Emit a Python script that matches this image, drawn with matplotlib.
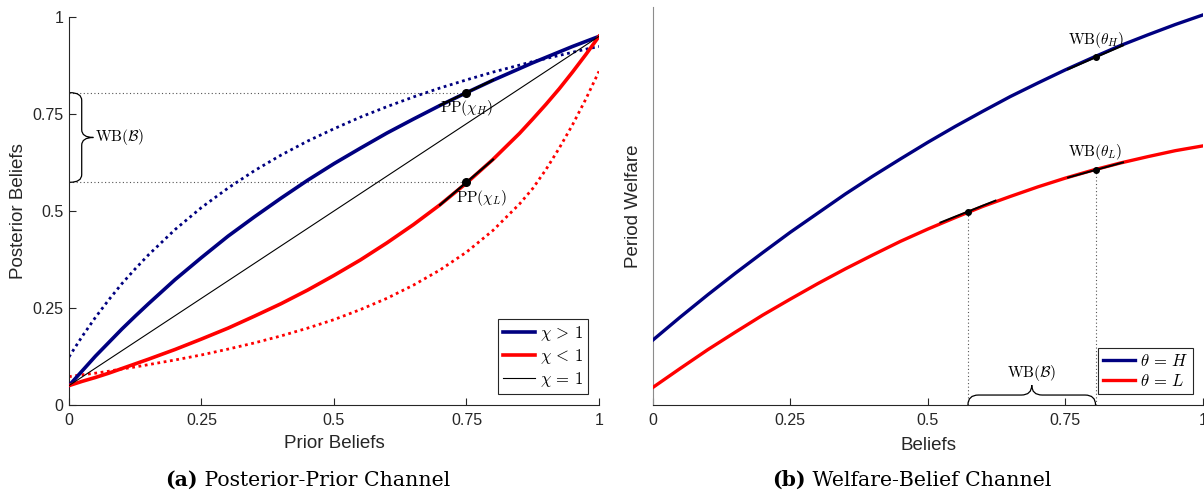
import matplotlib
matplotlib.use("Agg")
import matplotlib.pyplot as plt
from matplotlib.path import Path
from matplotlib.patches import PathPatch

plt.rcParams["font.family"] = ["Liberation Sans", "DejaVu Sans"]
plt.rcParams["mathtext.fontset"] = "cm"

# -----------------------------
# Data: (a) posterior vs prior
# -----------------------------
prior = [0.0, 0.025, 0.05, 0.075, 0.10, 0.125, 0.15, 0.20, 0.25, 0.30, 0.35, 0.40, 0.45,
         0.50, 0.55, 0.60, 0.65, 0.70, 0.75, 0.80, 0.85, 0.875, 0.90, 0.925, 0.95, 0.975, 1.0]
post_hi = [0.050, 0.088, 0.126, 0.161, 0.196, 0.229, 0.261, 0.323, 0.380, 0.435, 0.485,
           0.533, 0.579, 0.622, 0.662, 0.701, 0.737, 0.772, 0.805, 0.837, 0.867, 0.882,
           0.896, 0.910, 0.924, 0.937, 0.950]
post_lo = [0.050, 0.061, 0.071, 0.082, 0.094, 0.106, 0.118, 0.143, 0.170, 0.198, 0.229,
           0.261, 0.296, 0.334, 0.374, 0.418, 0.465, 0.516, 0.572, 0.633, 0.700, 0.737,
           0.775, 0.815, 0.858, 0.903, 0.950]
post_hi_alt = [0.124, 0.177, 0.226, 0.271, 0.313, 0.351, 0.387, 0.452, 0.509, 0.559, 0.604,
               0.644, 0.680, 0.712, 0.742, 0.769, 0.794, 0.817, 0.838, 0.858, 0.876, 0.885,
               0.893, 0.901, 0.909, 0.917, 0.924]
post_lo_alt = [0.073, 0.078, 0.082, 0.087, 0.093, 0.098, 0.104, 0.116, 0.129, 0.144, 0.160,
               0.178, 0.198, 0.220, 0.246, 0.275, 0.309, 0.348, 0.394, 0.450, 0.518, 0.558,
               0.607, 0.662, 0.722, 0.788, 0.860]
neutral_x = [0.0, 1.0]
neutral_y = [0.05, 0.95]

pp_x = [0.75, 0.75]
pp_y = [0.805, 0.574]
pp_slope = [0.65, 1.17]
pp_labels = [r"$\mathrm{PP}(\chi_H)$", r"$\mathrm{PP}(\chi_L)$"]

# -----------------------------
# Data: (b) welfare vs beliefs
# -----------------------------
belief = [0.0, 0.05, 0.10, 0.15, 0.20, 0.25, 0.30, 0.35, 0.40, 0.45, 0.50,
          0.55, 0.60, 0.65, 0.70, 0.75, 0.80, 0.85, 0.90, 0.95, 1.0]
welfare_h = [0.163, 0.221, 0.277, 0.331, 0.383, 0.434, 0.482, 0.530, 0.575, 0.618, 0.660,
             0.700, 0.738, 0.775, 0.809, 0.842, 0.873, 0.903, 0.930, 0.956, 0.980]
welfare_l = [0.044, 0.092, 0.139, 0.183, 0.226, 0.266, 0.305, 0.342, 0.377, 0.411, 0.442,
             0.471, 0.499, 0.524, 0.548, 0.570, 0.590, 0.608, 0.624, 0.639, 0.651]

wb_x = [0.805, 0.805, 0.573]
wb_y = [0.8735, 0.5905, 0.486]
wb_slope = [0.60, 0.38, 0.55]

NAVY = "#000080"
RED = "#ff0000"
DARK = "#262626"
DOTGRAY = "#555555"


def brace(ax, a, b, base, depth, r, vertical=True):
    # curly brace between a and b, hooks at base, tip at base + depth
    m = (a + b) / 2
    h = base + depth / 2
    t = base + depth
    pts = [(base, a), (h, a), (h, a + r), (h, m - r), (h, m), (t, m),
           (h, m), (h, m + r), (h, b - r), (h, b), (base, b)]
    if not vertical:
        pts = [(q, p) for p, q in pts]
    codes = [Path.MOVETO, Path.CURVE3, Path.CURVE3, Path.LINETO, Path.CURVE3, Path.CURVE3,
             Path.CURVE3, Path.CURVE3, Path.LINETO, Path.CURVE3, Path.CURVE3]
    ax.add_patch(PathPatch(Path(pts, codes), facecolor="none", edgecolor="black",
                           lw=0.9, clip_on=False, zorder=5))


def style_axes(ax):
    ax.spines["top"].set_visible(False)
    ax.spines["right"].set_visible(False)
    ax.spines["left"].set_color(DARK)
    ax.spines["bottom"].set_color(DARK)
    ax.tick_params(direction="in", length=5, width=0.8, colors=DARK, labelsize=11.5)
    ax.tick_params(axis="x", pad=6)
    ax.tick_params(axis="y", pad=4)
    ax.set_xlim(0, 1)
    ax.set_ylim(0, 1)
    ax.set_xticks([0, 0.25, 0.5, 0.75, 1])
    ax.set_xticklabels(["0", "0.25", "0.5", "0.75", "1"])


fig = plt.figure(figsize=(12.04, 4.9), dpi=100)

# -----------------------------
# Panel (a)
# -----------------------------
ax1 = fig.add_axes([0.0573, 0.1735, 0.4402, 0.7918])
style_axes(ax1)
ax1.set_yticks([0, 0.25, 0.5, 0.75, 1])
ax1.set_yticklabels(["0", "0.25", "0.5", "0.75", "1"])

for yy, xx in zip(pp_y, pp_x):
    ax1.plot([0, xx], [yy, yy], color=DOTGRAY, lw=0.8, ls=(0, (1, 2.2)), zorder=1)

ax1.plot(prior, post_hi_alt, color=NAVY, lw=2.0, ls=(0, (1, 1.3)), zorder=2)
ax1.plot(prior, post_lo_alt, color=RED, lw=2.0, ls=(0, (1, 1.3)), zorder=2)
l_hi, = ax1.plot(prior, post_hi, color=NAVY, lw=2.6, zorder=3, label=r"$\chi\,>\,1$")
l_lo, = ax1.plot(prior, post_lo, color=RED, lw=2.6, zorder=3, label=r"$\chi\,<\,1$")
l_one, = ax1.plot(neutral_x, neutral_y, color="black", lw=0.8, zorder=3, label=r"$\chi\,=\,1$")

for x0, y0, s in zip(pp_x, pp_y, pp_slope):
    ax1.plot([x0 - 0.05, x0 + 0.05], [y0 - 0.05 * s, y0 + 0.05 * s], color="black", lw=1.6, zorder=4)
ax1.plot(pp_x, pp_y, "o", color="black", ms=5.5, zorder=5)
ax1.text(pp_x[0], pp_y[0] - 0.04, pp_labels[0], ha="center", va="center", fontsize=11)
ax1.text(pp_x[1] + 0.028, pp_y[1] - 0.041, pp_labels[1], ha="center", va="center", fontsize=11)

brace(ax1, pp_y[1], pp_y[0], 0.002, 0.044, 0.02, vertical=True)
ax1.text(0.05, (pp_y[0] + pp_y[1]) / 2, r"$\mathrm{WB}(\mathcal{B})$", ha="left", va="center", fontsize=11)

leg1 = ax1.legend(handles=[l_hi, l_lo, l_one], loc="lower right", bbox_to_anchor=(0.979, 0.028),
                  fontsize=12, frameon=True, fancybox=False, framealpha=1, edgecolor=DARK,
                  handlelength=1.9, handletextpad=0.3, labelspacing=0.25, borderpad=0.3,
                  borderaxespad=0)
leg1.get_frame().set_linewidth(0.8)

# -----------------------------
# Panel (b)
# -----------------------------
ax2 = fig.add_axes([0.5422, 0.1735, 0.4568, 0.8122])
style_axes(ax2)
ax2.set_yticks([])
ax2.spines["left"].set_color("#8c8c8c")

for x0, y0 in zip(wb_x[1:], wb_y[1:]):
    ax2.plot([x0, x0], [0, y0], color=DOTGRAY, lw=0.8, ls=(0, (1, 2.2)), zorder=1)

w_h, = ax2.plot(belief, welfare_h, color=NAVY, lw=2.4, zorder=3, label=r"$\theta\,=\,H$")
w_l, = ax2.plot(belief, welfare_l, color=RED, lw=2.4, zorder=3, label=r"$\theta\,=\,L$")

for x0, y0, s in zip(wb_x, wb_y, wb_slope):
    ax2.plot([x0 - 0.05, x0 + 0.05], [y0 - 0.05 * s, y0 + 0.05 * s], color="black", lw=1.4, zorder=4)
ax2.plot(wb_x, wb_y, "o", color="black", ms=4, zorder=5)
ax2.text(wb_x[0], wb_y[0] + 0.044, r"$\mathrm{WB}(\theta_H)$", ha="center", va="center", fontsize=11)
ax2.text(wb_x[1], wb_y[1] + 0.046, r"$\mathrm{WB}(\theta_L)$", ha="center", va="center", fontsize=11)

brace(ax2, wb_x[2], wb_x[0], 0.0, 0.05, 0.019, vertical=False)
ax2.text((wb_x[0] + wb_x[2]) / 2, 0.08, r"$\mathrm{WB}(\mathcal{B})$", ha="center", va="center", fontsize=11)

leg2 = ax2.legend(handles=[w_h, w_l], loc="lower right", bbox_to_anchor=(0.982, 0.028),
                  fontsize=12, frameon=True, fancybox=False, framealpha=1, edgecolor=DARK,
                  handlelength=1.9, handletextpad=0.3, labelspacing=0.25, borderpad=0.3,
                  borderaxespad=0)
leg2.get_frame().set_linewidth(0.8)

# -----------------------------
# Axis labels and captions
# -----------------------------
fig.text(334 / 1204, 1 - 443 / 490, "Prior Beliefs", ha="center", va="center", fontsize=13.5, color=DARK)
fig.text(928 / 1204, 1 - 445 / 490, "Beliefs", ha="center", va="center", fontsize=13.5, color=DARK)
fig.text(19 / 1204, 1 - 211 / 490, "Posterior Beliefs", ha="center", va="center", rotation=90,
         fontsize=13.5, color=DARK)
fig.text(634 / 1204, 1 - 206 / 490, "Period Welfare", ha="center", va="center", rotation=90,
         fontsize=13.5, color=DARK)

# captions: bold tag + normal text, centred together
renderer = fig.canvas.get_renderer()
cap_y = 1 - 480 / 490
for cx, tag, rest in [(308, "(a)", " Posterior-Prior Channel"), (912, "(b)", " Welfare-Belief Channel")]:
    t1 = fig.text(0, cap_y, tag, ha="left", va="center", fontsize=14.7, family="DejaVu Serif",
                  fontweight="bold")
    t2 = fig.text(0, cap_y, rest, ha="left", va="center", fontsize=14.7, family="DejaVu Serif")
    w1 = t1.get_window_extent(renderer).width
    w2 = t2.get_window_extent(renderer).width
    x0 = cx - (w1 + w2) / 2
    t1.set_x(x0 / 1204)
    t2.set_x((x0 + w1) / 1204)

plt.savefig("out.png", dpi=100)
plt.close()
